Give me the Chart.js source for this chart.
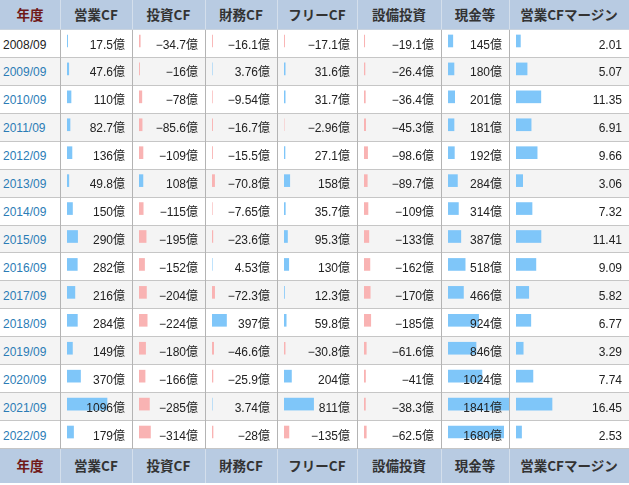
<!DOCTYPE html>
<html>
<head>
<meta charset="utf-8">
<script src="https://cdn.jsdelivr.net/npm/chart.js@4/dist/chart.umd.min.js"></script>
<style>
  html, body { margin: 0; padding: 0; background: #fff; }
  #wrap { position: relative; width: 629px; height: 485px; overflow: hidden;
          font-family: "Liberation Sans", "Noto Sans CJK JP", sans-serif; }
  .cell { position: absolute; box-sizing: border-box; }
  .head { background: #b8cbe2; color: #333; font-weight: bold; font-size: 13.5px;
          text-align: center; font-family: "Noto Sans CJK JP", sans-serif; }
  .head.year { color: #701818; }
  .row { position: absolute; left: 0; width: 629px; box-sizing: border-box;
         border-bottom: 1px solid #c6c6c6; }
  .vline { position: absolute; width: 1px; background: #b4b4b4; }
  .hvline { position: absolute; width: 1px; background: #d4dfec; }
  .txt { position: absolute; z-index: 2; font-size: 12px; color: #222; white-space: nowrap; }
  .yr { color: #2b7cb6; }
  canvas { position: absolute; z-index: 1; }
</style>
</head>
<body>
<div id="wrap"></div>
<script>
// 年度
const years = ["2008/09", "2009/09", "2010/09", "2011/09", "2012/09", "2013/09", "2014/09",
  "2015/09", "2016/09", "2017/09", "2018/09", "2019/09", "2020/09", "2021/09", "2022/09"];
// 単位: 億円
const eigyoCF = [17.5, 47.6, 110, 82.7, 136, 49.8, 150, 290, 282, 216, 284, 149, 370, 1096, 179];
const toshiCF = [-34.7, -16, -78, -85.6, -109, 108, -115, -195, -152, -204, -224, -180, -166, -285, -314];
const zaimuCF = [-16.1, 3.76, -9.54, -16.7, -15.5, -70.8, -7.65, -23.6, 4.53, -72.3, 397, -46.6, -25.9, 3.74, -28];
const freeCF = [-17.1, 31.6, 31.7, -2.96, 27.1, 158, 35.7, 95.3, 130, 12.3, 59.8, -30.8, 204, 811, -135];
const setsubi = [-19.1, -26.4, -36.4, -45.3, -98.6, -89.7, -109, -133, -162, -170, -185, -61.6, -41, -38.3, -62.5];
const genkin = [145, 180, 201, 181, 192, 284, 314, 387, 518, 466, 924, 846, 1024, 1841, 1680];
// 営業CFマージン (%)
const margin = [2.01, 5.07, 11.35, 6.91, 9.66, 3.06, 7.32, 11.41, 9.09, 5.82, 6.77, 3.29, 7.74, 16.45, 2.53];

const headers = ["年度", "営業CF", "投資CF", "財務CF", "フリーCF", "設備投資", "現金等", "営業CFマージン"];

// layout
const colX = [0, 60, 132, 205, 277, 357, 441, 509, 629];
const headH = 30;
const footTop = 449;
const footBottom = 483;
const rowH = (footTop - headH) / years.length;
const blue = "#7fc6f9";
const pink = "#f9b3b3";

// px per unit for each bar column
const cfPx = 40 / 1096;
const columns = [
  { data: eigyoCF, px: cfPx, fmt: v => String(v).replace("-", "−") + "億" },
  { data: toshiCF, px: cfPx, fmt: v => String(v).replace("-", "−") + "億" },
  { data: zaimuCF, px: cfPx, fmt: v => String(v).replace("-", "−") + "億" },
  { data: freeCF, px: cfPx, fmt: v => String(v).replace("-", "−") + "億" },
  { data: setsubi, px: cfPx, fmt: v => String(v).replace("-", "−") + "億" },
  { data: genkin, px: 61 / 1841, fmt: v => String(v) + "億" },
  { data: margin, px: 36 / 16.45, fmt: v => v.toFixed(2) }
];

let wrap = document.getElementById("wrap");

function addDiv(cls, style, text) {
  let d = document.createElement("div");
  d.className = cls;
  Object.assign(d.style, style);
  if (text !== undefined) d.textContent = text;
  wrap.appendChild(d);
  return d;
}

// header & footer
[[0, headH], [footTop, footBottom - footTop]].forEach(([top, h]) => {
  headers.forEach((t, i) => {
    addDiv("cell head" + (i == 0 ? " year" : ""), {
      left: colX[i] + "px", top: top + "px", width: (colX[i + 1] - colX[i]) + "px",
      height: h + "px", lineHeight: (h - 1) + "px"
    }, t);
    if (i > 0) addDiv("hvline", { left: colX[i] + "px", top: top + "px", height: h + "px" });
  });
});
addDiv("row", { top: (headH - 1) + "px", height: "1px", borderBottom: "1px solid #c9d3de" });

// body rows
years.forEach((y, r) => {
  let top = headH + r * rowH;
  addDiv("row", { top: top + "px", height: rowH + "px", background: r % 2 ? "#f4f4f4" : "#fff" });
  addDiv("txt" + (r > 0 ? " yr" : ""), {
    left: "3px", top: (top + 1.5) + "px", lineHeight: rowH + "px"
  }, y);
  columns.forEach((c, i) => {
    let right = 629 - colX[i + 2] + 7;
    addDiv("txt", { right: right + "px", top: (top + 1.5) + "px", lineHeight: rowH + "px" }, c.fmt(c.data[r]));
  });
});
for (let i = 1; i < colX.length - 1; i++) {
  addDiv("vline", { left: colX[i] + "px", top: headH + "px", height: (footTop - headH) + "px" });
}

// one small bar chart per column
columns.forEach((c, i) => {
  let w = colX[i + 2] - colX[i + 1] - 7;
  let h = Math.round(rowH * years.length);
  let cv = document.createElement("canvas");
  cv.width = w;
  cv.height = h;
  cv.style.left = (colX[i + 1] + 7) + "px";
  cv.style.top = (headH - 3) + "px";
  cv.style.width = w + "px";
  cv.style.height = h + "px";
  wrap.appendChild(cv);
  new Chart(cv, {
    type: "bar",
    data: {
      labels: years,
      datasets: [{
        data: c.data.map(v => Math.abs(v)),
        backgroundColor: c.data.map(v => v < 0 ? pink : blue),
        barThickness: 12,
        borderWidth: 0
      }]
    },
    options: {
      indexAxis: "y",
      responsive: false,
      animation: false,
      devicePixelRatio: 1,
      layout: { padding: 0 },
      plugins: { legend: { display: false }, tooltip: { enabled: false } },
      scales: {
        x: { display: false, min: 0, max: w / c.px },
        y: { display: false, offset: true }
      }
    }
  });
});
</script>
</body>
</html>
